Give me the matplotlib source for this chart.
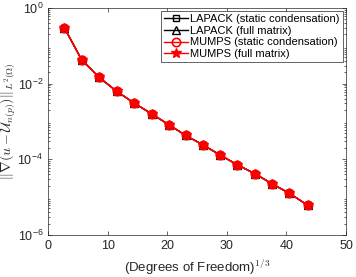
import numpy as np
import matplotlib.pyplot as plt

plt.rcParams['font.family'] = ['Liberation Sans', 'DejaVu Sans']
plt.rcParams['mathtext.fontset'] = 'cm'

# values
dof_cbrt = [2.73, 5.64, 8.54, 11.5, 14.4, 17.4, 20.3, 23.1, 26.0, 28.9,
            31.7, 34.8, 37.6, 40.5, 43.6]
log_err = [-0.52, -1.37, -1.83, -2.20, -2.51, -2.80, -3.09, -3.37, -3.62,
           -3.89, -4.14, -4.39, -4.65, -4.90, -5.22]
err = 10.0 ** np.array(log_err)

labels = ['LAPACK (static condensation)', 'LAPACK (full matrix)',
          'MUMPS (static condensation)', 'MUMPS (full matrix)']

fig = plt.figure(figsize=(3.56, 2.77), dpi=100)
ax = fig.add_axes([0.135, 0.152, 0.837, 0.819])

ax.semilogy(dof_cbrt, err, color='k', marker='s', mfc='none', ms=5, lw=1, label=labels[0])
ax.semilogy(dof_cbrt, err, color='k', marker='^', mfc='none', ms=6, lw=1, label=labels[1])
ax.semilogy(dof_cbrt, err, color='r', marker='o', mfc='none', ms=6, mew=1.2, lw=1, label=labels[2])
ax.semilogy(dof_cbrt, err, color='r', marker='*', ms=7, lw=1, label=labels[3])

ax.set_xlim(0, 50)
ax.set_ylim(1e-6, 1)
ax.set_xticks([0, 10, 20, 30, 40, 50])
ax.set_yticks([1e-6, 1e-4, 1e-2, 1])
ax.tick_params(which='both', direction='in', top=True, right=True, labelsize=9,
               colors='#262626', length=3, width=0.5)
ax.tick_params(which='minor', length=1.5)
for s in ax.spines.values():
    s.set_color('#262626')
    s.set_linewidth(0.5)

ax.set_xlabel('(Degrees of Freedom)$^{1/3}$', fontsize=9.5, color='#262626')
ax.set_ylabel(r'$||\nabla(u-\mathcal{U}_{n(p)})||_{L^2(\Omega)}$', fontsize=10, color='#262626')
ax.yaxis.label.set_va('center')
ax.yaxis.set_label_coords(-0.135, 0.5)

leg = ax.legend(loc='upper right', fontsize=8, handlelength=2.2, handletextpad=0.2,
                borderpad=0.25, labelspacing=0.15, borderaxespad=0.3, fancybox=False,
                framealpha=1, edgecolor='#262626')
leg.get_frame().set_linewidth(0.5)

fig.savefig('out.png', dpi=100)
